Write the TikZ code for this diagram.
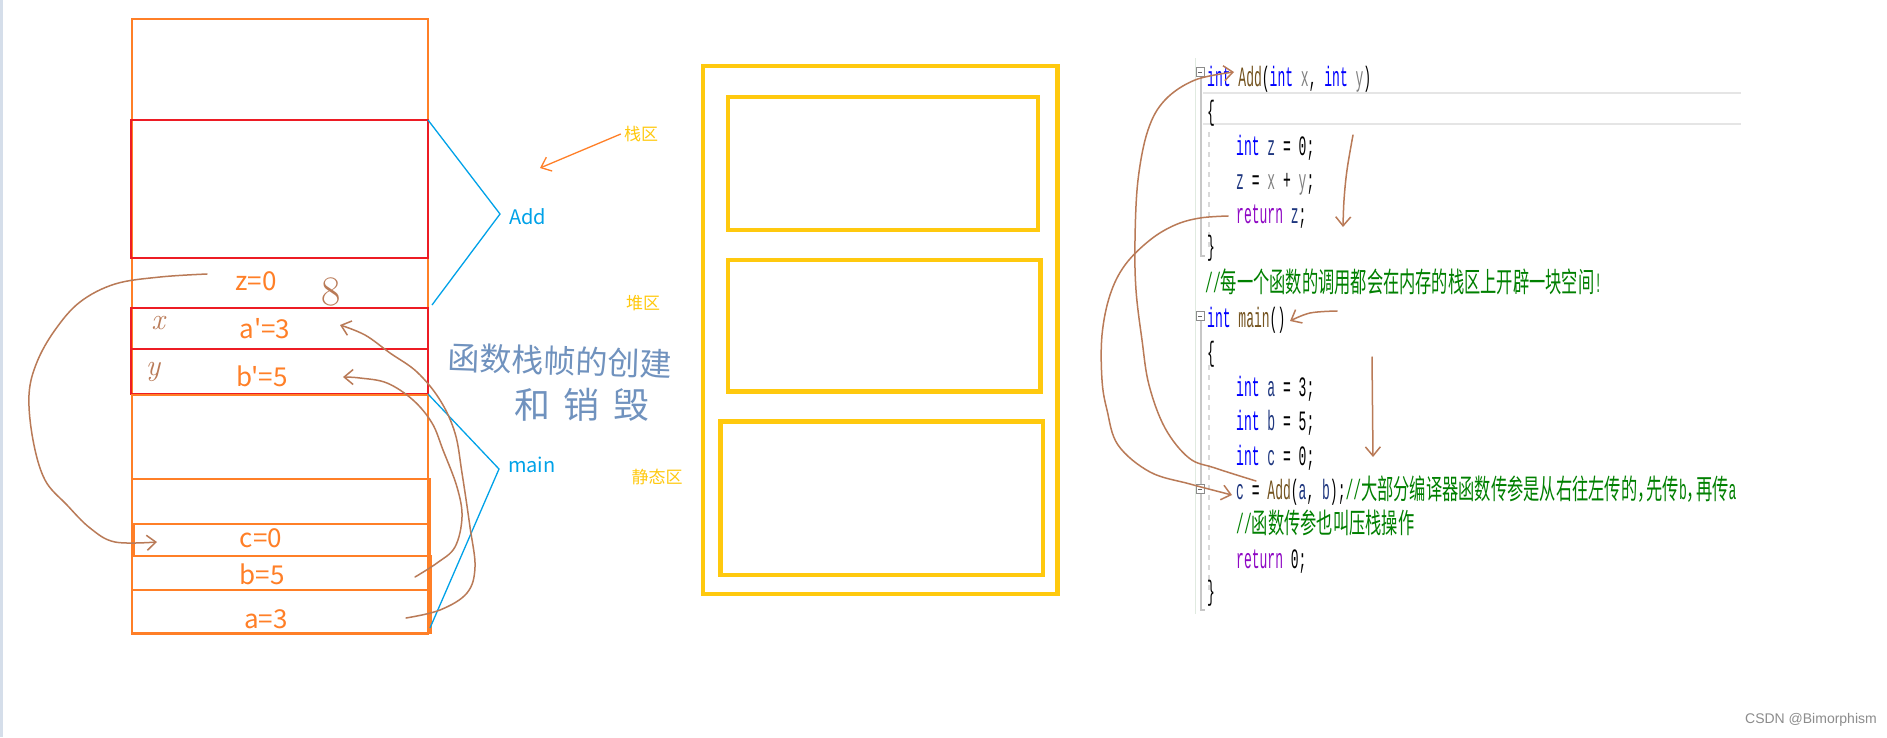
\documentclass[tikz,border=0pt]{standalone}
\usepackage{fontspec}
\usetikzlibrary{arrows.meta}
\newfontfamily\cjk{Noto Sans CJK SC}
\newfontfamily\codefont[FakeStretch=0.465]{Liberation Mono}
\newfontfamily\cjkcode[FakeStretch=0.58]{Noto Sans CJK SC}
\newfontfamily\wmfont{Liberation Sans}
\definecolor{stkorange}{HTML}{FF7F27}
\definecolor{stkred}{HTML}{ED1C24}
\definecolor{brk}{HTML}{00A2E8}
\definecolor{gold}{HTML}{FFC90E}
\definecolor{hand}{HTML}{B97A57}
\definecolor{handblue}{HTML}{7092BE}
\definecolor{kwblue}{HTML}{0000FF}
\definecolor{fnbrown}{HTML}{74531F}
\definecolor{pargray}{HTML}{808080}
\definecolor{locblue}{HTML}{1F377F}
\definecolor{retpurple}{HTML}{8F08C4}
\definecolor{cmtgreen}{HTML}{008000}
\definecolor{edgegray}{HTML}{D5DEEA}
\newcommand\ckw[1]{\textcolor{kwblue}{#1}}
\newcommand\cfn[1]{\textcolor{fnbrown}{#1}}
\newcommand\cpa[1]{\textcolor{pargray}{#1}}
\newcommand\clv[1]{\textcolor{locblue}{#1}}
\newcommand\crt[1]{\textcolor{retpurple}{#1}}
\newcommand\ccm[1]{\textcolor{cmtgreen}{#1}}
\begin{document}
\begin{tikzpicture}[x=1pt,y=-1pt,
  box/.style={draw, inner sep=0pt, outer sep=0pt},
  obox/.style={box, draw=stkorange, line width=2pt},
  rbox/.style={box, draw=stkred, line width=2.2pt},
  ybox/.style={box, draw=gold, line width=4.3pt},
  val/.style={text=stkorange, font=\cjk\fontsize{26}{26}\selectfont, inner sep=0pt},
  brlabel/.style={text=brk, font=\cjk\fontsize{20}{20}\selectfont, inner sep=0pt},
  area/.style={text=gold, font=\cjk\fontsize{17}{17}\selectfont, inner sep=0pt},
  bracket/.style={draw=brk, line width=1.3pt},
  handline/.style={draw=hand, line width=1.5pt, line cap=round, line join=round},
  barb/.style={-{Straight Barb[length=9pt,width=15pt]}},
  code/.style={inner sep=0pt, anchor=base west, font=\codefont\fontsize{28}{28}\selectfont},
  editline/.style={draw=black!22, line width=2pt},
]
\useasboundingbox (0,0) rectangle (1887,737);
\fill[white] (0,0) rectangle (1887,737);
\fill[edgegray] (0,0) rectangle (2.5,737);

% ---------------- left stack ----------------
\node[box, draw=stkorange, line width=1.1pt, minimum width=296pt, minimum height=614pt] (outer) at (280,326) {};
\node[box, draw=stkred, line width=1.5pt, minimum width=297pt, minimum height=138pt] (addbox) at (279.5,189) {};
\node[rbox, minimum width=297pt, minimum height=41pt] (aprime) at (279.5,328.5) {};
\node[rbox, minimum width=297pt, minimum height=45pt] (bprime) at (279.5,371.5) {};
\node[obox, minimum width=296pt, minimum height=239pt] (mainbox) at (280,514) {};
\node[obox, minimum width=298pt, minimum height=154pt] (lowbox) at (281,556) {};
\node[obox, minimum width=296pt, minimum height=32pt] (crow) at (282,540) {};
\node[obox, minimum width=299pt, minimum height=34pt] (brow) at (281.5,573) {};
\node[obox, minimum width=299pt, minimum height=43pt] (arow) at (281.5,611.5) {};

\node[val] (zval) at (256,281) {z=0};
\node[val] (apval) at (265,329) {a'=3};
\node[val] (bpval) at (262,376) {b'=5};
\node[val] (cval) at (261,538) {c=0};
\node[val] (bval) at (262,574) {b=5};
\node[val] (aval) at (266,619) {a=3};

% brackets
\coordinate (addtip) at (500,214);
\coordinate (addend) at (432,305);
\coordinate (maintip) at (499,469);
\coordinate (mainend) at (430,628);
\draw[bracket] (addbox.north east) -- (addtip) -- (addend);
\draw[bracket] (bprime.south east) -- (maintip) -- (mainend);
\node[brlabel, anchor=base west] (addlab) at (509,224) {Add};
\node[brlabel, anchor=base west] (mainlab) at (508,472) {main};

% area labels
\node[area] (zhan) at (641,134) {栈区};
\node[area] (dui) at (643,303) {堆区};
\node[area] (jing) at (657,477) {静态区};
\coordinate (zhanarr) at (540,168);
\draw[stkorange, line width=1.3pt, barb] ([xshift=-3pt]zhan.west) -- (zhanarr);

% handwritten notes
\node[text=handblue, font=\cjk\fontsize{32}{32}\selectfont, inner sep=0pt, rotate=-2] (note1) at (560,361) {函数栈帧的创建};
\node[text=handblue, font=\cjk\fontsize{36}{36}\selectfont, inner sep=0pt] (note2) at (582,405) {和\hspace{14pt}销\hspace{14pt}毁};
\node[text=hand, font=\fontsize{42}{42}\selectfont, inner sep=0pt] (eight) at (331,292) {8};
\node[text=hand, font=\fontsize{30}{30}\selectfont\itshape, inner sep=0pt] (xmark) at (158,323) {x};
\node[text=hand, font=\fontsize{30}{30}\selectfont\itshape, inner sep=0pt] (ymark) at (153,372) {y};

% brown hand arrows on the stack
\draw[handline, barb] plot[smooth, tension=0.6] coordinates {(207,274) (160,277) (115,284) (80,302) (55,330) (37,362) (29,395) (33,440) (45,480) (67,505) (90,528) (115,542) (157,542)};
\draw[handline, barb] plot[smooth, tension=0.6] coordinates {(406,618) (440,610) (467,593) (475,567) (470,527) (462,473) (455,433) (440,400) (417,372) (390,353) (365,335) (340,325)};
\draw[handline, barb] plot[smooth, tension=0.6] coordinates {(415,577) (437,563) (455,547) (462,517) (457,487) (443,450) (432,423) (413,400) (387,383) (360,378) (343,377)};

% ---------------- memory layout ----------------
\node[ybox, minimum width=354.5pt, minimum height=528pt] (mem) at (880.25,330) {};
\node[ybox, minimum width=310pt, minimum height=133pt] (stackbox) at (883,163.8) {};
\node[ybox, minimum width=312.5pt, minimum height=131.7pt] (heapbox) at (884.25,325.5) {};
\node[ybox, minimum width=322.5pt, minimum height=153.8pt] (staticbox) at (881.75,498.4) {};

% ---------------- code editor ----------------
\draw[draw=green!30!black!12, line width=0.8pt] (1195,58) -- (1195,614);
\draw[editline] (1201,76) -- (1201,256) -- (1205,256);
\draw[editline] (1201,320) -- (1201,610) -- (1205,610);
\draw[draw=black!15, line width=1.2pt, dash pattern=on 5pt off 5pt] (1209,132) -- (1209,250);
\draw[draw=black!15, line width=1.2pt, dash pattern=on 5pt off 5pt] (1209,365) -- (1209,592);
\draw[draw=black!10, line width=2.5pt] (1203,93) -- (1741,93);
\draw[draw=black!10, line width=2.5pt] (1203,124) -- (1741,124);
\foreach \yy/\nm in {72/fa, 316/fb, 489/fc}{
  \node[box, draw=black!45, fill=white, line width=0.8pt, minimum width=8pt, minimum height=9pt] (\nm) at (1200,\yy) {};
  \draw[black!60, line width=0.8pt] ([xshift=2pt]\nm.west) -- ([xshift=-2pt]\nm.east);
}

\node[code] (l1) at (1207,86) {\ckw{int} \cfn{Add}(\ckw{int} \cpa{x}, \ckw{int} \cpa{y})};
\node[code] (l2) at (1207,120) {\{};
\node[code] (l3) at (1236,155) {\ckw{int} \clv{z} = 0;};
\node[code] (l4) at (1236,189) {\clv{z} = \cpa{x} + \cpa{y};};
\node[code] (l5) at (1236,223) {\crt{return} \clv{z};};
\node[code] (l6) at (1207,255) {\}};
\node[code] (l7) at (1205,292) {\ccm{//{\cjkcode 每一个函数的调用都会在内存的栈区上开辟一块空间}!}};
\node[code] (l8) at (1207,327) {\ckw{int} \cfn{main}()};
\node[code] (l9) at (1207,361) {\{};
\node[code] (l10) at (1236,396) {\ckw{int} \clv{a} = 3;};
\node[code] (l11) at (1236,430) {\ckw{int} \clv{b} = 5;};
\node[code] (l12) at (1236,465) {\ckw{int} \clv{c} = 0;};
\node[code] (l13) at (1236,499) {\clv{c} = \cfn{Add}(\clv{a}, \clv{b});\ccm{//{\cjkcode 大部分编译器函数传参是从右往左传的}{\cjkcode ，}\hspace{-7pt}{\cjkcode 先传}b{\cjkcode ，}\hspace{-7pt}{\cjkcode 再传}a}};
\node[code] (l14) at (1236,533) {\ccm{//{\cjkcode 函数传参也叫压栈操作}}};
\node[code] (l15) at (1236,568) {\crt{return} 0;};
\node[code] (l16) at (1207,600) {\}};

% brown hand arrows on the code
\draw[handline, barb] plot[smooth, tension=0.6] coordinates {(1228,216) (1200,218) (1175,225) (1150,240) (1125,265) (1110,295) (1102,335) (1102,380) (1107,410) (1118,445) (1150,472) (1190,484) (1232,495)};
\draw[handline, barb] plot[smooth, tension=0.6] coordinates {(1256,481) (1215,468) (1189,458) (1165,428) (1149,385) (1142,340) (1136,290) (1135,240) (1138,180) (1148,130) (1165,100) (1195,80) (1234,72)};
\draw[handline, barb] plot[smooth, tension=0.6] coordinates {(1353,135) (1347,170) (1344,200) (1343,227)};
\draw[handline, barb] plot[smooth, tension=0.6] coordinates {(1337,311) (1310,313) (1290,321)};
\draw[handline, barb] (1372,357) -- (1373,457);

% watermark
\node[anchor=base east, text=black!45, font=\wmfont\fontsize{14}{14}\selectfont, inner sep=0pt] (wm) at (1877,723) {CSDN @Bimorphism};
\end{tikzpicture}
\end{document}
